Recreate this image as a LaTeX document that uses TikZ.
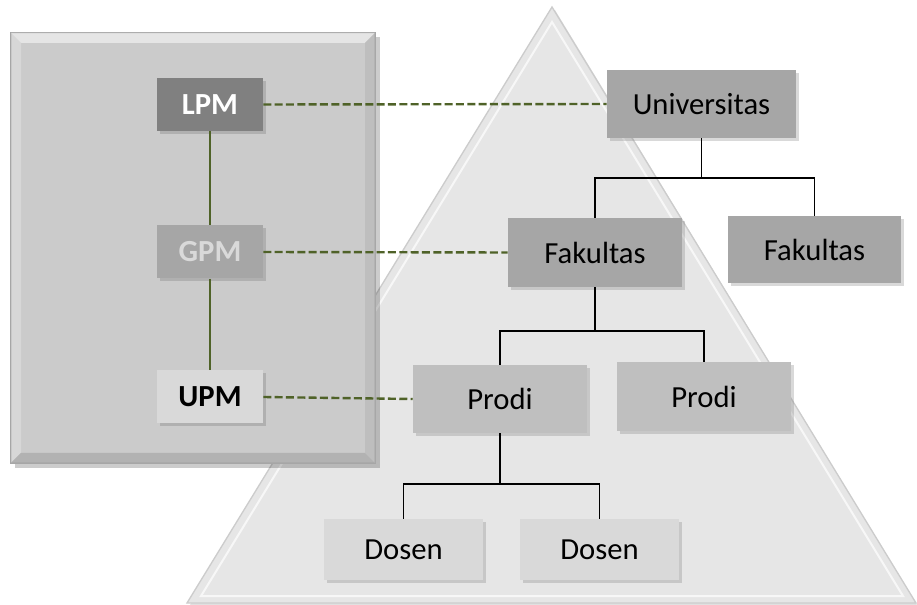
\documentclass[tikz,border=0pt]{standalone}
\usepackage{fontspec}
\setmainfont{Carlito}
\usetikzlibrary{shadows}

\definecolor{olivegreen}{HTML}{4F6228}
\definecolor{boxgray}{HTML}{CBCBCB}
\definecolor{pyrgray}{HTML}{E6E6E6}
\definecolor{darkfill}{HTML}{808080}
\definecolor{midfill}{HTML}{A6A6A6}
\definecolor{lightfill}{HTML}{BFBFBF}
\definecolor{palefill}{HTML}{D9D9D9}

\begin{document}
\begin{tikzpicture}[x=0.75pt, y=-0.75pt,
    unit/.style={minimum width=106*0.75pt, minimum height=53*0.75pt,
        inner sep=0pt, font=\fontsize{23}{27}\selectfont\bfseries,
        drop shadow={opacity=0.35, shadow xshift=2pt, shadow yshift=-2pt}},
    org/.style={inner sep=0pt, font=\fontsize{23}{27}\selectfont,
        drop shadow={opacity=0.3, shadow xshift=2pt, shadow yshift=-2pt}},
    link/.style={olivegreen, line width=1.8pt, dash pattern=on 6pt off 2.5pt},
    tree/.style={black, line width=1.2pt}]
    \useasboundingbox (0,0) rectangle (917,605);

    % pyramid
    \fill[black, opacity=0.12] (555,10) -- (190,605) -- (917,605) -- cycle;
    \draw[fill=pyrgray, draw=gray!40, line width=1pt]
        (552,7) -- (187,603) -- (916,603) -- cycle;
    \draw[white, opacity=0.7, line width=1.5pt]
        (552,22) -- (201,596) -- (903,596) -- cycle;

    % quality box
    \fill[black, opacity=0.2] (15,37) rectangle (380,468);
    \draw[fill=boxgray, draw=gray!70, line width=1pt] (11,33) rectangle (375,463);
    \fill[gray!15, opacity=0.8] (11,33) -- (375,33) -- (365,43) -- (21,43) -- cycle;
    \fill[gray!25, opacity=0.6] (11,33) -- (21,43) -- (21,453) -- (11,463) -- cycle;
    \fill[gray!65, opacity=0.8] (11,463) -- (21,453) -- (365,453) -- (375,463) -- cycle;
    \fill[gray!55, opacity=0.7] (375,33) -- (365,43) -- (365,453) -- (375,463) -- cycle;

    \node[unit, fill=darkfill, text=white] (lpm) at (210,104.5) {LPM};
    \node[unit, fill=midfill, text=palefill] (gpm) at (210,252) {GPM};
    \node[unit, fill=palefill, text=black] (upm) at (210,397) {UPM};

    \draw[olivegreen, line width=1pt] (lpm) -- (gpm);
    \draw[olivegreen, line width=1pt] (gpm) -- (upm);

    % organisation
    \node[org, fill=midfill, minimum width=189*0.75pt, minimum height=68*0.75pt] (univ) at (701.5,104) {Universitas};
    \node[org, fill=midfill, minimum width=174*0.75pt, minimum height=69*0.75pt] (fak1) at (595,252.5) {Fakultas};
    \node[org, fill=midfill, minimum width=173*0.75pt, minimum height=67*0.75pt] (fak2) at (814.5,249.5) {Fakultas};
    \node[org, fill=lightfill, minimum width=174*0.75pt, minimum height=68*0.75pt] (prodi1) at (500,399) {Prodi};
    \node[org, fill=lightfill, minimum width=174*0.75pt, minimum height=69*0.75pt] (prodi2) at (704,396.5) {Prodi};
    \node[org, fill=palefill, minimum width=159*0.75pt, minimum height=61*0.75pt] (dosen1) at (403.5,549.5) {Dosen};
    \node[org, fill=palefill, minimum width=159*0.75pt, minimum height=61*0.75pt] (dosen2) at (599.5,549.5) {Dosen};

    \draw[tree] (univ.south) -- ++(0,40) coordinate (j1);
    \draw[tree] (fak1.north) |- (j1) -| (fak2.north);
    \draw[tree] (fak1.south) -- ++(0,44) coordinate (j2);
    \draw[tree] (prodi1.north) |- (j2) -| (prodi2.north);
    \draw[tree] (prodi1.south) -- ++(0,51) coordinate (j3);
    \draw[tree] (dosen1.north) |- (j3) -| (dosen2.north);

    % links between the two
    \draw[link] (lpm.east) -- (univ.west);
    \draw[link] (gpm.east) -- (fak1.west);
    \draw[link] (upm.east) -- (prodi1.west);
\end{tikzpicture}
\end{document}
